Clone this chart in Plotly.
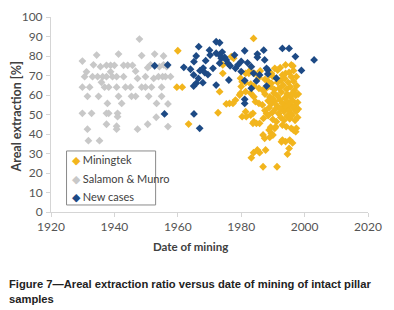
import plotly.graph_objects as go

# Miningtek (year, areal extraction %)
miningtek_year = [1960.0, 1959.7, 1961.4, 1963.4, 1972.7, 1973.2, 1974.2, 1974.2, 1976.9, 1977.6,
                  1975.3, 1976.3, 1977.4, 1978.2, 1979.5, 1983.9,
                  1994.0, 1995.8, 1996.3, 1992.3, 1990.6,
                  1981.4, 1982.4, 1982.7, 1984.2, 1988.8, 1989.5, 1993.0, 1994.0, 1995.1, 1996.5, 1991.5, 1986.0,
                  1979.8, 1980.3, 1981.4, 1985.6, 1987.5, 1988.5, 1990.0, 1992.5, 1993.7, 1995.8, 1997.4, 1996.5, 1994.8, 1991.5, 1989.5,
                  1980.0, 1983.0, 1984.0, 1985.6, 1986.8, 1988.0, 1989.2, 1990.5, 1992.0, 1993.2, 1994.3, 1995.5, 1996.8, 1997.5,
                  1979.8, 1981.4, 1983.0, 1984.0, 1987.5, 1989.0, 1990.3, 1991.5, 1992.7, 1993.8, 1994.5, 1995.5, 1996.3, 1997.2, 1998.0,
                  1984.5, 1985.6, 1986.7, 1988.5, 1989.5, 1990.5, 1991.3, 1992.2, 1993.0, 1993.8, 1994.6, 1995.4, 1996.2, 1997.0, 1997.8, 1990.0,
                  1981.4, 1983.7, 1987.5, 1988.8, 1989.8, 1990.8, 1991.8, 1992.5, 1993.5, 1994.2, 1995.0, 1995.8, 1996.5, 1997.3, 1998.0, 1988.0,
                  1980.3, 1981.6, 1983.0, 1984.0, 1991.1, 1987.0, 1988.5, 1990.0, 1992.5, 1993.5, 1994.5, 1995.3, 1996.0, 1997.0, 1997.8,
                  1983.7, 1984.8, 1985.8, 1990.6, 1990.9, 1993.0, 1994.2, 1995.8, 1996.5, 1997.4, 1988.8, 1989.3,
                  1986.9, 1987.4, 1989.0, 1989.5, 1990.0, 1997.2,
                  1992.7, 1993.0, 1994.0, 1995.3, 1996.2,
                  1983.2, 1983.9, 1985.8, 1985.1, 1987.7, 1994.6, 1995.1,
                  1986.9, 1991.3]
miningtek_value = [82.7, 64.0, 64.0, 45.1, 50.9, 61.7, 75.4, 71.1, 79.7, 78.8,
                   55.4, 55.7, 55.7, 57.4, 60.0, 89.0,
                   75.4, 75.4, 74.9, 74.0, 73.7,
                   71.1, 71.1, 72.5, 71.1, 70.3, 71.1, 70.3, 71.1, 71.6, 72.5, 72.8, 72.3,
                   68.6, 66.8, 66.3, 69.0, 68.0, 67.0, 69.5, 67.5, 68.5, 69.4, 69.4, 67.0, 66.5, 66.5, 66.0,
                   64.3, 65.6, 64.6, 63.4, 62.5, 63.5, 64.5, 62.8, 63.5, 65.0, 63.0, 64.2, 62.5, 64.8,
                   60.9, 61.7, 60.9, 59.1, 60.5, 59.0, 61.0, 59.5, 61.5, 58.5, 60.5, 59.0, 61.2, 59.8, 60.5,
                   56.6, 55.7, 54.9, 57.0, 55.5, 56.8, 54.5, 57.5, 55.8, 54.2, 56.5, 55.0, 57.2, 54.8, 56.2, 58.0,
                   51.4, 50.6, 52.0, 53.5, 51.0, 52.8, 50.5, 53.0, 51.5, 53.8, 52.0, 50.3, 53.2, 51.5, 52.8, 50.5,
                   48.9, 48.9, 49.7, 46.3, 46.3, 48.0, 49.5, 47.5, 48.5, 47.0, 49.2, 47.8, 49.5, 47.0, 48.5,
                   45.5, 45.5, 45.5, 42.9, 43.7, 44.6, 43.8, 42.9, 42.0, 42.9, 42.0, 43.5,
                   39.5, 37.8, 38.3, 40.3, 39.5, 41.2,
                   36.0, 36.9, 36.1, 36.9, 35.4,
                   27.8, 30.4, 30.4, 31.8, 31.8, 29.7, 32.6,
                   23.2, 23.2]

# Salamon & Munro
salamon_year = [1947.9,
                1934.4, 1941.3, 1948.6, 1952.7, 1955.5,
                1929.9,
                1933.4, 1935.6, 1937.5, 1938.8, 1940.0, 1942.9, 1944.2, 1945.7, 1950.5, 1951.4, 1954.2, 1955.5, 1956.5,
                1931.2, 1938.8, 1946.7,
                1930.6, 1933.1, 1934.7, 1936.3, 1937.5, 1939.4, 1940.7, 1942.9, 1947.3, 1949.8, 1952.4, 1953.9, 1955.2, 1956.1, 1957.7,
                1935.9,
                1929.9, 1932.2, 1936.9, 1938.2, 1940.7, 1943.5, 1945.1, 1948.6, 1949.8, 1951.7, 1954.9,
                1931.5, 1935.0, 1941.3, 1945.4, 1946.7, 1950.8, 1954.9,
                1937.8, 1942.3, 1953.3, 1956.9,
                1929.9, 1932.8, 1937.5, 1938.2, 1941.0,
                1941.0, 1953.2,
                1937.5, 1950.5, 1940.7, 1956.9,
                1931.5, 1940.7, 1947.3,
                1931.8, 1935.3]
salamon_value = [88.7,
                 80.5, 81.0, 80.2, 81.0, 80.0,
                 77.4,
                 75.5, 74.5, 75.2, 75.2, 75.2, 75.2, 75.2, 75.2, 74.0, 75.5, 74.5, 75.5, 74.5,
                 71.9, 71.9, 72.2,
                 69.4, 69.4, 69.4, 69.4, 69.4, 69.4, 69.4, 69.4, 68.5, 69.4, 68.5, 69.4, 69.4, 69.4, 69.4,
                 66.5,
                 64.0, 64.0, 64.0, 64.0, 64.0, 64.0, 64.0, 64.0, 64.0, 64.0, 64.0,
                 59.3, 59.3, 59.3, 59.3, 59.3, 59.3, 59.3,
                 55.7, 55.7, 55.7, 55.4,
                 50.6, 50.6, 50.6, 50.6, 50.6,
                 48.9, 48.6,
                 45.0, 45.0, 44.0, 43.8,
                 42.5, 42.5, 42.5,
                 36.6, 36.6]

# New cases
new_year = [1952.7, 1956.8, 1955.8, 1965.1, 1966.9, 1961.9, 1964.0, 1965.0, 1965.0, 1965.8,
            1965.1, 1965.8, 1966.6, 1967.9, 1967.0, 1968.0, 1968.5, 1968.8, 1970.2, 1971.1,
            1972.1, 1973.2, 1972.1, 1973.2, 1973.7, 1974.8, 1975.3, 1973.2, 1975.8, 1976.1,
            1972.1, 1977.9, 1978.2, 1980.0, 1981.1, 1980.0, 1981.1, 1983.2, 1983.2, 1983.9,
            1985.1, 1985.1, 1985.8, 1984.8, 1987.1, 1987.4, 1988.0, 1988.4, 1988.4, 1988.0,
            1991.1, 1993.0, 1995.1, 1997.1, 1999.0, 2003.0, 1981.1, 1981.1, 1966.5, 1969.5,
            1979.0, 1982.0, 1976.5, 1970.0, 1974.0]
new_value = [75.0, 75.4, 50.3, 50.3, 42.9, 74.2, 73.2, 70.3, 64.6, 66.0,
             77.1, 80.0, 84.8, 66.3, 72.5, 73.8, 71.5, 77.6, 80.5, 73.7,
             87.3, 86.8, 81.4, 80.5, 78.8, 79.3, 78.0, 76.3, 76.3, 67.7,
             65.1, 80.5, 73.7, 77.2, 82.7, 72.0, 67.4, 74.5, 63.4, 71.1,
             81.0, 79.3, 70.3, 67.2, 83.0, 78.0, 73.7, 72.8, 70.8, 64.6,
             68.6, 83.9, 83.9, 79.7, 72.6, 78.0, 57.8, 55.7, 68.5, 70.5,
             75.5, 76.5, 75.0, 83.0, 82.0]

x_ticks = [1920, 1940, 1960, 1980, 2000, 2020]
y_ticks = [0, 10, 20, 30, 40, 50, 60, 70, 80, 90, 100]

series = [("Miningtek", miningtek_year, miningtek_value, "#F2B51D"),
          ("Salamon & Munro", salamon_year, salamon_value, "#C8C8C8"),
          ("New cases", new_year, new_value, "#1D4A85")]

fig = go.Figure()
for name, xs, ys, col in series:
    fig.add_trace(go.Scatter(x=xs, y=ys, mode="markers", name=name, showlegend=False,
                             marker=dict(symbol="diamond", size=6, color=col, line=dict(width=0))))

font_fam = "Lato, Open Sans, sans-serif"
tick_font = dict(family=font_fam, size=12, color="#555555")
# The page body adds an 8 px offset, so the figure is sized to fill the rest of the window.
fig.update_layout(
    width=386, height=302,
    margin=dict(l=43, r=26, t=9, b=98),
    paper_bgcolor="white", plot_bgcolor="white",
    xaxis=dict(range=[1920, 2020], tickvals=x_ticks, showgrid=False, zeroline=False,
               automargin=False,
               showline=True, linecolor="#D5D5D5", linewidth=1,
               ticks="outside", ticklen=4, tickcolor="#D5D5D5", tickfont=tick_font),
    yaxis=dict(range=[0, 100], tickvals=y_ticks, showgrid=False, zeroline=False,
               automargin=False,
               showline=True, linecolor="#D5D5D5", linewidth=1,
               ticks="outside", ticklen=4, tickcolor="#D5D5D5", tickfont=tick_font,
               ticklabelstandoff=1),
)

# Axis titles
fig.add_annotation(xref="paper", yref="paper", x=0.44, y=-0.179, xanchor="center", yanchor="middle",
                   showarrow=False, text="<b>Date of mining</b>",
                   font=dict(family=font_fam, size=11.5, color="#404040"))
fig.add_annotation(xref="paper", yref="paper", x=-0.109, y=0.487, xanchor="center", yanchor="middle",
                   showarrow=False, textangle=-90, text="<b>Areal extraction [%]</b>",
                   font=dict(family=font_fam, size=12.5, color="#404040"))

# Legend box drawn as a framed block of text entries
fig.add_shape(type="rect", xref="paper", yref="paper", x0=0.049, x1=0.330, y0=0.036, y1=0.313,
              line=dict(color="#8A8A8A", width=1), fillcolor="white", layer="above")
leg_y = [0.267, 0.172, 0.077]
for (name, xs, ys, col), yy in zip(series, leg_y):
    fig.add_annotation(xref="paper", yref="paper", x=0.06, y=yy, xanchor="left", yanchor="middle",
                       showarrow=False, align="left",
                       text=f"<span style='color:{col}'>\u25C6</span> {name}",
                       font=dict(family=font_fam, size=11, color="#404040"))

fig.add_annotation(xref="paper", yref="paper", x=-0.138, y=-0.326, xanchor="left", yanchor="top",
                   align="left", showarrow=False,
                   text="<b>Figure 7\u2014Areal extraction ratio versus date of mining of intact pillar<br>samples</b>",
                   font=dict(family="Liberation Sans, Arial, sans-serif", size=11.2, color="#222222"))
fig.write_html("out.html")
